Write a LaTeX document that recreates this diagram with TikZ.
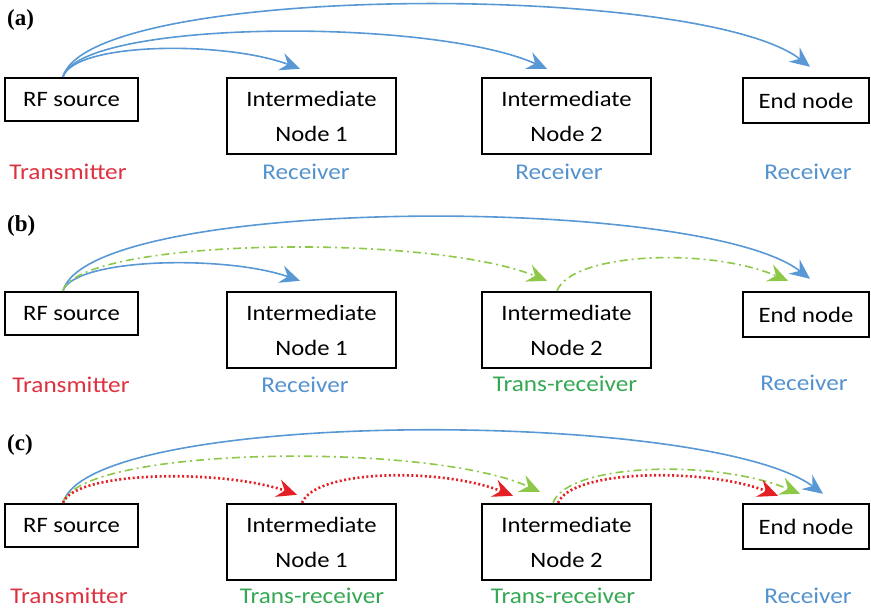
\documentclass[tikz,border=0pt]{standalone}
\usepackage{fontspec}
\setmainfont{Carlito}[FakeStretch=1.12]
\newfontfamily\panelfont{Liberation Serif}
\usepackage{tikz}
\usetikzlibrary{arrows.meta,positioning}
\definecolor{arblue}{RGB}{88,152,212}
\definecolor{txblue}{RGB}{84,146,206}
\definecolor{arred}{RGB}{228,32,38}
\definecolor{txred}{RGB}{222,48,62}
\definecolor{argreen}{RGB}{142,200,72}
\definecolor{txgreen}{RGB}{52,168,82}
\tikzset{
  nbox/.style={draw, line width=2.4pt, inner sep=0pt, align=center,
    font=\fontsize{22}{35}\selectfont},
  srcbox/.style={nbox, minimum width=133pt, minimum height=43pt},
  midbox/.style={nbox, minimum width=169pt, minimum height=76pt},
  endbox/.style={nbox, minimum width=126pt, minimum height=45pt},
  role/.style={font=\fontsize{22.5}{26}\selectfont, anchor=base, inner sep=0pt},
  plab/.style={font=\panelfont\bfseries\fontsize{23}{27}\selectfont,
    anchor=base west, inner sep=0pt},
  tip/.style={-{Stealth[length=20pt, width=18pt, inset=7pt]}},
  barr/.style={tip, arblue, line width=1.6pt},
  garr/.style={tip, argreen, line width=1.6pt,
    dash pattern=on 8pt off 4pt on 2pt off 4pt},
  rarr/.style={tip, arred, line width=2.6pt, dash pattern=on 2pt off 2.5pt},
}
\begin{document}
\begin{tikzpicture}[x=1pt, y=1pt]
  \useasboundingbox (0,0) rectangle (871,-611);
  % (a) source only transmits
  \node[plab] (labA) at (7,-25) {(a)};
  \node[srcbox] (srcA) at (71.5,-99.5) {RF source};
  \node[midbox] (imA1) at (311.5,-116) {Intermediate\\Node 1};
  \node[midbox] (imA2) at (566.5,-116) {Intermediate\\Node 2};
  \node[endbox] (endA) at (806,-100.5) {End node};
  \node[role, txred] (rolA0) at (68,-179) {Transmitter};
  \node[role, txblue] (rolA1) at (306,-179) {Receiver};
  \node[role, txblue] (rolA2) at (559,-179) {Receiver};
  \node[role, txblue] (rolA3) at (808,-179) {Receiver};
  \draw[barr] ([xshift=-8.5pt]srcA.north) .. controls +(12,35) and +(-75,28) .. ([shift={(-11.5pt,8pt)}]imA1.north);
  \draw[barr] ([xshift=-8.5pt]srcA.north) .. controls +(17,57) and +(-117,52) .. ([shift={(-19.5pt,8pt)}]imA2.north);
  \draw[barr] ([xshift=-8.5pt]srcA.north) .. controls +(27,94) and +(-110,85) .. ([shift={(4pt,10pt)}]endA.north);

  % (b) node 2 relays to the end node
  \node[plab] (labB) at (7,-231) {(b)};
  \node[srcbox] (srcB) at (71.5,-313.5) {RF source};
  \node[midbox] (imB1) at (311.5,-330) {Intermediate\\Node 1};
  \node[midbox] (imB2) at (566.5,-330) {Intermediate\\Node 2};
  \node[endbox] (endB) at (806,-314.5) {End node};
  \node[role, txred] (rolB0) at (71,-392) {Transmitter};
  \node[role, txblue] (rolB1) at (305,-392) {Receiver};
  \node[role, txgreen] (rolB2) at (565,-391) {Trans-receiver};
  \node[role, txblue] (rolB3) at (804,-390) {Receiver};
  \draw[barr] ([xshift=-8.5pt]srcB.north) .. controls +(12,33) and +(-75,26) .. ([shift={(-11.5pt,10pt)}]imB1.north);
  \draw[barr] ([xshift=-8.5pt]srcB.north) .. controls +(27,95) and +(-110,85) .. ([shift={(4pt,12pt)}]endB.north);
  \draw[garr] ([xshift=-8.5pt]srcB.north) .. controls +(17,53) and +(-117,48) .. ([shift={(-19.5pt,10pt)}]imB2.north);
  \draw[garr] ([xshift=-9.5pt]imB2.north) .. controls +(15,38) and +(-80,34) .. ([shift={(-18pt,10pt)}]endB.north);

  % (c) both intermediate nodes relay
  \node[plab] (labC) at (7,-450) {(c)};
  \node[srcbox] (srcC) at (71.5,-525.5) {RF source};
  \node[midbox] (imC1) at (311.5,-542) {Intermediate\\Node 1};
  \node[midbox] (imC2) at (566.5,-542) {Intermediate\\Node 2};
  \node[endbox] (endC) at (806,-526.5) {End node};
  \node[role, txred] (rolC0) at (69,-603) {Transmitter};
  \node[role, txgreen] (rolC1) at (312,-603) {Trans-receiver};
  \node[role, txgreen] (rolC2) at (563,-603) {Trans-receiver};
  \node[role, txblue] (rolC3) at (808,-603) {Receiver};
  \draw[barr] ([xshift=-8.5pt]srcC.north) .. controls +(27,95) and +(-115,85) .. ([shift={(17pt,9pt)}]endC.north);
  \draw[garr] ([xshift=-8.5pt]srcC.north) .. controls +(17,57) and +(-110,50) .. ([shift={(-26.5pt,11pt)}]imC2.north);
  \draw[garr] ([xshift=-13.5pt]imC2.north) .. controls +(15,40) and +(-85,35) .. ([shift={(-6pt,9pt)}]endC.north);
  \draw[rarr] ([xshift=-8.5pt]srcC.north) .. controls +(12,32) and +(-75,26) .. ([shift={(-14.5pt,8pt)}]imC1.north);
  \draw[rarr] ([xshift=-9.5pt]imC1.north) .. controls +(14,34) and +(-70,28) .. ([shift={(-53.5pt,7pt)}]imC2.north);
  \draw[rarr] ([xshift=-8.5pt]imC2.north) .. controls +(14,34) and +(-70,28) .. ([shift={(-28pt,7pt)}]endC.north);
\end{tikzpicture}
\end{document}
